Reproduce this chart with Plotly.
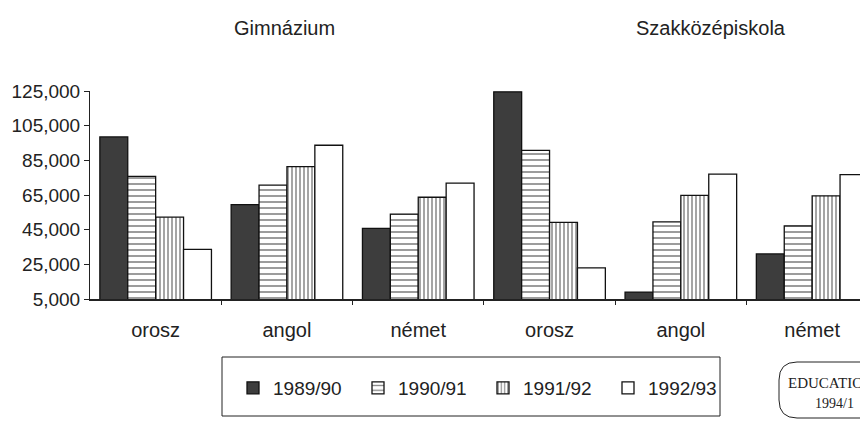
import plotly.graph_objects as go

categories = ["orosz", "angol", "német", "orosz", "angol", "német"]
groups = ["Gimnázium", "Szakközépiskola"]
years = ["1989/90", "1990/91", "1991/92", "1992/93"]
v1989 = [98500, 59500, 45700, 124500, 9000, 31000]
v1990 = [75700, 70700, 54000, 90800, 49500, 47200]
v1991 = [52200, 81400, 63700, 49200, 64800, 64500]
v1992 = [33600, 93700, 71800, 23000, 77000, 76800]
y_ticks = [5000, 25000, 45000, 65000, 85000, 105000, 125000]
source_lines = ["EDUCATIO", "1994/1"]

series = [v1989, v1990, v1991, v1992]
styles = [
    dict(color="#3d3d3d", pattern=None),
    dict(color="white", pattern=dict(shape="-", size=6, solidity=0.28, fgcolor="#111", bgcolor="white")),
    dict(color="white", pattern=dict(shape="|", size=4, solidity=0.38, fgcolor="#111", bgcolor="white")),
    dict(color="white", pattern=None),
]

xpos = list(range(len(categories)))
fig = go.Figure()
for name, vals, st in zip(years, series, styles):
    marker = dict(color=st["color"], line=dict(color="#111", width=1.3))
    if st["pattern"]:
        marker["pattern"] = st["pattern"]
    fig.add_trace(go.Bar(x=xpos, y=vals, name=name, marker=marker))

OFF = 8  # page body margin
W, H = 868 - OFF, 426 - OFF
L, R, T, B = 90 - OFF, 0, 91 - OFF, 426 - 299
pw, ph = W - L - R, H - T - B

def px(x):
    return (x - OFF - L) / pw

def py(y):
    return (H - B - (y - OFF)) / ph

font = "Liberation Sans, Arial, sans-serif"
fig.update_layout(
    width=W, height=H,
    margin=dict(l=L, r=R, t=T, b=B),
    paper_bgcolor="white", plot_bgcolor="white",
    barmode="group", bargap=0.15, bargroupgap=0,
    font=dict(family=font, size=19, color="#222"),
    showlegend=True,
    legend=dict(orientation="h", x=px(233), y=py(388), xanchor="left", yanchor="middle",
                font=dict(size=19, color="#222"), entrywidth=80, entrywidthmode="pixels",
                bgcolor="rgba(0,0,0,0)", borderwidth=0),
    xaxis=dict(range=[-0.5, -0.5 + pw / 131.3], tickmode="array", tickvals=xpos, ticktext=categories,
               ticks="", showline=True, linecolor="#222", linewidth=1.5, showgrid=False, zeroline=False,
               tickfont=dict(size=20, color="#222"), ticklabelstandoff=12,
               minor=dict(tickmode="array", tickvals=[i + 0.5 for i in xpos[:-1]], ticks="outside",
                          ticklen=4, tickwidth=1, tickcolor="#222", showgrid=False)),
    yaxis=dict(range=[5000, 125000], tickmode="array", tickvals=y_ticks, tickformat=",d",
               ticks="outside", ticklen=5, tickwidth=1, tickcolor="#222", showline=True,
               linecolor="#222", linewidth=1, showgrid=False, zeroline=False,
               tickfont=dict(size=19, color="#222")),
)

fig.add_annotation(text=groups[0], xref="paper", yref="paper", x=px(284), y=py(28),
                   showarrow=False, font=dict(size=20, color="#222"), xanchor="center", yanchor="middle")
fig.add_annotation(text=groups[1], xref="paper", yref="paper", x=px(711), y=py(28),
                   showarrow=False, font=dict(size=20, color="#222"), xanchor="center", yanchor="middle")

# legend frame
fig.add_shape(type="rect", xref="paper", yref="paper", x0=px(222), x1=px(720), y0=py(416), y1=py(357),
              line=dict(color="#222", width=1), fillcolor="rgba(0,0,0,0)", layer="below")

# source stamp
x0, x1, yt, yb, r = 779, 900, 362, 418, 18
path = (f"M {px(x1)},{py(yt)} L {px(x0 + r)},{py(yt)} Q {px(x0)},{py(yt)} {px(x0)},{py(yt + r)} "
        f"L {px(x0)},{py(yb - r)} Q {px(x0)},{py(yb)} {px(x0 + r)},{py(yb)} L {px(x1)},{py(yb)}")
fig.add_shape(type="path", xref="paper", yref="paper", path=path, line=dict(color="#222", width=1))
fig.add_annotation(text=source_lines[0], xref="paper", yref="paper", x=px(865), y=py(383),
                   showarrow=False, xanchor="right", yanchor="middle",
                   font=dict(family="Liberation Serif, DejaVu Serif, serif", size=15, color="#222"))
fig.add_annotation(text=source_lines[1], xref="paper", yref="paper", x=px(834), y=py(403),
                   showarrow=False, xanchor="center", yanchor="middle",
                   font=dict(family="Liberation Serif, DejaVu Serif, serif", size=14, color="#222"))

fig.write_html("out.html")
